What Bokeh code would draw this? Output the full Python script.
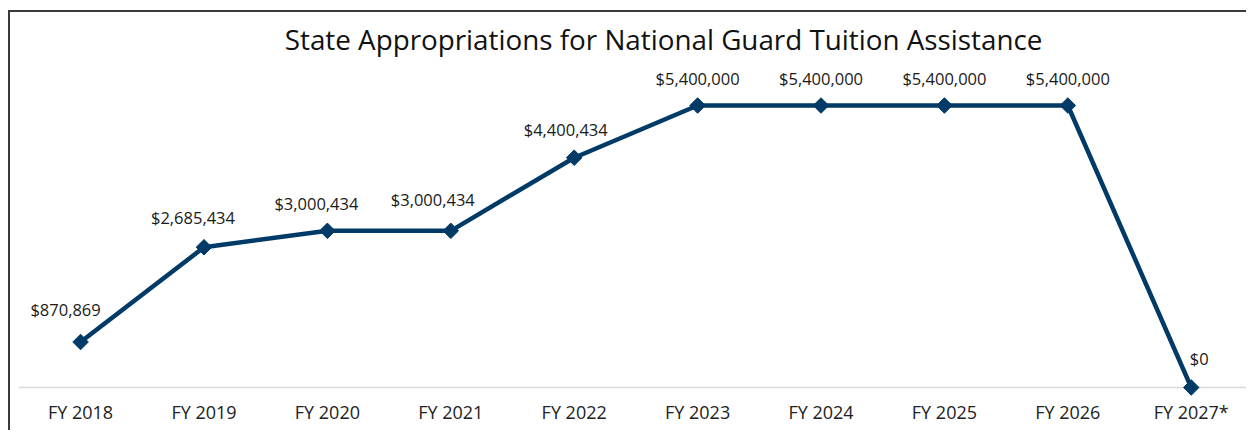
from bokeh.plotting import figure
from bokeh.models import ColumnDataSource, FixedTicker, Span, Label
from bokeh.embed import file_html
from bokeh.resources import INLINE
from bokeh.core.properties import value
import math

years = ["FY 2018", "FY 2019", "FY 2020", "FY 2021", "FY 2022",
         "FY 2023", "FY 2024", "FY 2025", "FY 2026", "FY 2027*"]
amounts = [870869, 2685434, 3000434, 3000434, 4400434,
           5400000, 5400000, 5400000, 5400000, 0]

# label placement offsets (pixels), style only
label_dx = [-15, -11, -11, -18, -8.5, 0, 0, 0, 0, 8]
label_dy = [-32.5, -29.5, -27.5, -31.5, -28.5, -27.5, -27.5, -27.5, -27.5, -28.5]

idx = list(range(len(years)))
labels = ["${:,.0f}".format(a) for a in amounts]
src = ColumnDataSource(dict(x=idx, y=amounts, lab=labels, dx=label_dx, dy=label_dy))

LINE = "#003a66"
FONT = "Open Sans"

p = figure(width=1238, height=420, output_backend="svg", toolbar_location=None,
           x_range=(-0.503, 9.464), y_range=(-191500, 7181000),
           min_border_left=8, min_border_right=0, min_border_top=0, min_border_bottom=35)
p.styles = {"border-left": "2px solid #3a3a3a", "border-top": "2px solid #3a3a3a",
            "margin-left": "8px", "margin-top": "10px"}
p.outline_line_color = None
p.grid.visible = False
p.yaxis.visible = False
p.background_fill_color = "white"
p.border_fill_color = "white"

p.xaxis.ticker = FixedTicker(ticks=idx)
p.xaxis.major_label_overrides = {i: y for i, y in zip(idx, years)}
p.xaxis.axis_line_color = None
p.xaxis.major_tick_line_color = None
p.xaxis.minor_tick_line_color = None
p.xaxis.major_label_text_font = FONT
p.xaxis.major_label_text_font_size = "18px"
p.xaxis.major_label_text_color = "#222222"
p.xaxis.major_label_standoff = -4

p.add_layout(Span(location=0, dimension="width", line_color="#d9d9d9", line_width=1.5, level="underlay"))

p.line("x", "y", source=src, line_color=LINE, line_width=4.5)
p.scatter("x", "y", source=src, marker="square", angle=math.pi / 4, size=11,
          fill_color=LINE, line_color=LINE)
p.text("x", "y", text="lab", source=src, x_offset="dx", y_offset="dy",
       text_align="center", text_baseline="middle",
       text_font=value(FONT), text_font_size="16.5px", text_color="#1a1a1a")

p.add_layout(Label(x=4.724, y=6683000, text="State Appropriations for National Guard Tuition Assistance",
                   text_align="center", text_baseline="middle",
                   text_font=FONT, text_font_size="27.8px", text_color="#111111"))

open("out.html", "w").write(file_html(p, INLINE))
